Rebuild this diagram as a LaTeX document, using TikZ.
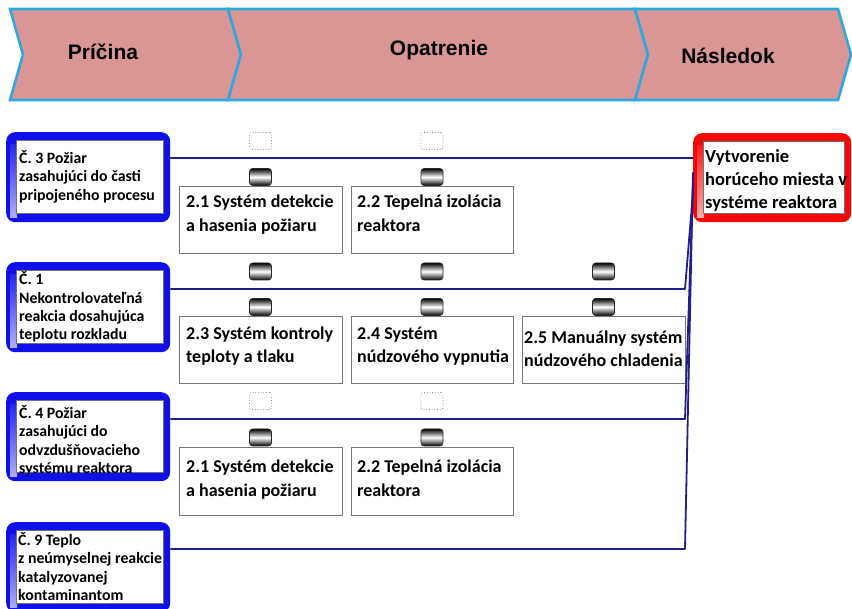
\documentclass[tikz,border=0pt]{standalone}
\usepackage{fontspec}
\setmainfont{Carlito}
\newfontfamily\bannerfont{Liberation Sans}
\usetikzlibrary{calc}

\definecolor{bannerfill}{RGB}{217,150,149}
\definecolor{bannerline}{RGB}{48,166,222}
\definecolor{causeblue}{RGB}{16,16,232}
\definecolor{effectred}{RGB}{245,8,8}
\definecolor{linknavy}{RGB}{30,30,140}
\definecolor{framegray}{RGB}{118,118,118}

% fixed first-line height, so a text block can be placed by its first baseline
\newcommand{\lnstrut}{\rule{0pt}{0.95em}}

\tikzset{
  chevron/.style={fill=bannerfill, draw=bannerline, line width=2.6pt, line join=miter},
  bannertext/.style={font=\bannerfont\bfseries\fontsize{21}{24}\selectfont, inner sep=0pt},
  glowframe/.style={rectangle, rounded corners=9pt, fill=#1, inner sep=0pt, anchor=north west,
    path picture={
      \shade[sharp corners, top color=#1, bottom color=white!70!#1]
        ($(path picture bounding box.north west)+(4,12)$) rectangle
        ($(path picture bounding box.south west)+(11,-5)$);
      \filldraw[sharp corners, fill=white, draw=black!55, line width=0.6pt]
        ($(path picture bounding box.north west)+(10,8)$) rectangle
        ($(path picture bounding box.south east)+(-7,-9)$);
    }},
  causetext/.style={anchor=north west, inner sep=0pt, align=left,
    font=\fontsize{15.8}{18.4}\selectfont\bfseries},
  measure/.style={rectangle, draw=framegray, line width=1pt, fill=white,
    anchor=north west, inner sep=0pt, minimum width=163pt, minimum height=67pt},
  measuretext/.style={anchor=north west, inner sep=0pt, align=left,
    font=\fontsize{18}{23.5}\selectfont\bfseries},
  effecttext/.style={anchor=north west, inner sep=0pt, align=left,
    font=\fontsize{18.5}{23}\selectfont\bfseries},
  barrier/.style={rectangle, rounded corners=3pt, minimum width=22pt, minimum height=17pt,
    inner sep=0pt, draw=black!85, line width=0.6pt,
    top color=black, bottom color=black, middle color=white},
  idle/.style={rectangle, rounded corners=2pt, minimum width=22pt, minimum height=17pt,
    inner sep=0pt, draw=black!50, dotted, line width=0.7pt, fill=white},
  link/.style={draw=linknavy, line width=1.8pt, line join=round},
}

\begin{document}
\begin{tikzpicture}[x=1pt,y=-1pt]
\useasboundingbox (0,0) rectangle (852,609);

% banner of three chevrons
\path[chevron] (10,9) -- (228,9) -- (241,54.5) -- (228,100) -- (10,100) -- (23,54.5) -- cycle;
\path[chevron] (228,9) -- (635,9) -- (648,54.5) -- (635,100) -- (228,100) -- (241,54.5) -- cycle;
\path[chevron] (635,9) -- (838,9) -- (851,54.5) -- (838,100) -- (635,100) -- (648,54.5) -- cycle;
\node[bannertext] (hcause) at (103,52) {Príčina};
\node[bannertext] (hmeasure) at (439,50) {Opatrenie};
\node[bannertext] (heffect) at (728,56) {Následok};

% causes
\node[glowframe=causeblue, minimum width=164pt, minimum height=90pt] (c3) at (6,132) {};
\node[glowframe=causeblue, minimum width=164pt, minimum height=90pt] (c1) at (6,262) {};
\node[glowframe=causeblue, minimum width=164pt, minimum height=89pt] (c4) at (6,392) {};
\node[glowframe=causeblue, minimum width=164pt, minimum height=90pt] (c9) at (6,522) {};
\node[causetext] (c3t) at (19,148) {\lnstrut Č. 3 Požiar\\zasahujúci do časti\\pripojeného procesu};
\node[causetext] (c1t) at (19,269.5) {\lnstrut Č. 1\\Nekontrolovateľná\\reakcia dosahujúca\\teplotu rozkladu};
\node[causetext] (c4t) at (19,403) {\lnstrut Č. 4 Požiar\\zasahujúci do\\odvzdušňovacieho\\systému reaktora};
\node[causetext] (c9t) at (18,530) {\lnstrut Č. 9 Teplo\\z neúmyselnej reakcie\\katalyzovanej\\kontaminantom};

% consequence
\node[glowframe=effectred, minimum width=158pt, minimum height=89pt] (eff) at (693,133) {};
\node[effecttext] (efft) at (705,144.5) {\lnstrut Vytvorenie\\horúceho miesta v\\systéme reaktora};

% measures
\node[measure] (m21) at (179,186) {};
\node[measure, minimum width=162pt] (m22) at (351,186) {};
\node[measure] (m23) at (179,316) {};
\node[measure, minimum width=162pt] (m24) at (351,316) {};
\node[measure] (m25) at (522,316) {};
\node[measure, minimum height=68pt] (m21r) at (179,447) {};
\node[measure, minimum height=68pt, minimum width=162pt] (m22r) at (351,447) {};

\node[measuretext] (m21t) at (186,190.4) {\lnstrut 2.1 Systém detekcie\\a hasenia požiaru};
\node[measuretext] (m22t) at (357,190.4) {\lnstrut 2.2 Tepelná izolácia\\reaktora};
\node[measuretext] (m23t) at (186,321.9) {\lnstrut 2.3 Systém kontroly\\teploty a tlaku};
\node[measuretext] (m24t) at (357,321.9) {\lnstrut 2.4 Systém\\núdzového vypnutia};
\node[measuretext, font=\fontsize{18}{23}\selectfont\bfseries] (m25t) at (524,325.9) {\lnstrut 2.5 Manuálny systém\\núdzového chladenia};
\node[measuretext] (m21rt) at (186,455.4) {\lnstrut 2.1 Systém detekcie\\a hasenia požiaru};
\node[measuretext] (m22rt) at (357,455.4) {\lnstrut 2.2 Tepelná izolácia\\reaktora};

% barrier markers
\node[idle] (i1) at (260.5,141) {};
\node[idle] (i2) at (432,141) {};
\node[barrier] (a1) at (260.5,177) {};
\node[barrier] (a2) at (432,177) {};
\node[barrier] (a3) at (260.5,271.5) {};
\node[barrier] (a4) at (432,271.5) {};
\node[barrier] (a5) at (603.5,271.5) {};
\node[barrier] (a6) at (260.5,307) {};
\node[barrier] (a7) at (432,307) {};
\node[barrier] (a8) at (603.5,307) {};
\node[idle] (i3) at (260.5,401) {};
\node[idle] (i4) at (432,401) {};
\node[barrier] (a9) at (260.5,437.5) {};
\node[barrier] (a10) at (432,437.5) {};

% scenario lines from each cause to the consequence
\coordinate (k1) at (685,289);
\coordinate (k2) at (685,419);
\coordinate (k3) at (685,549);
\draw[link] ($(c3.north east)+(0,26)$) -- ($(eff.north west)+(0,25)$);
\draw[link] ($(c1.north east)+(0,27)$) -- (k1) -- ($(eff.south west)+(0,-30)$);
\draw[link] ($(c4.north east)+(0,27)$) -- (k2) -- ($(eff.south west)+(0,-40)$);
\draw[link] ($(c9.north east)+(0,27)$) -- (k3) -- ($(eff.south west)+(0,-50)$);
\end{tikzpicture}
\end{document}
